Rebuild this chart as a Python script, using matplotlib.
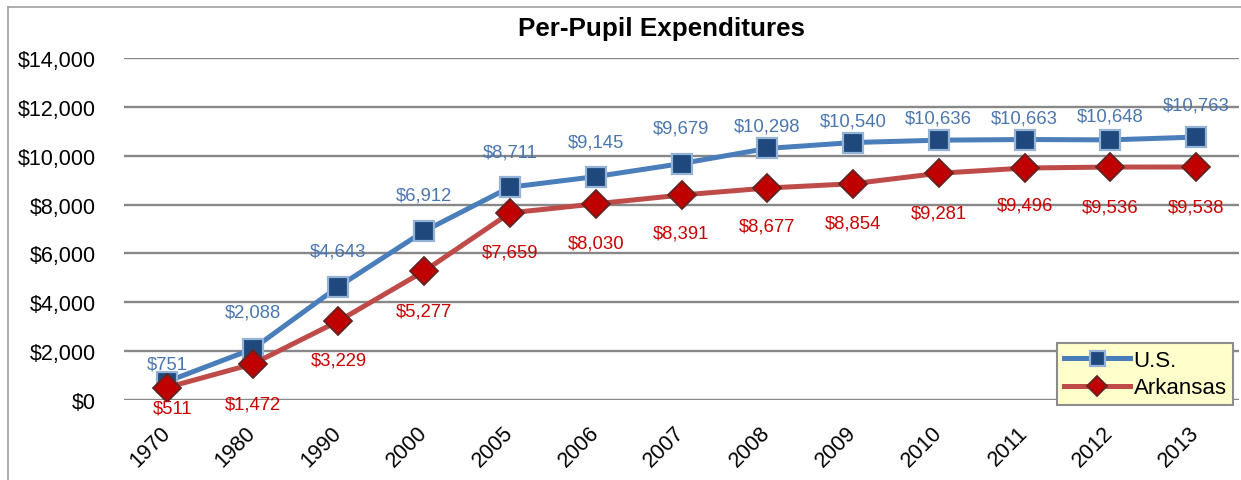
import numpy as np
import matplotlib
matplotlib.use("Agg")
import matplotlib.pyplot as plt
from matplotlib.lines import Line2D

plt.rcParams['font.family'] = ['Liberation Sans', 'DejaVu Sans']

# ---- data ----
years = ["1970", "1980", "1990", "2000", "2005", "2006", "2007",
         "2008", "2009", "2010", "2011", "2012", "2013"]
us_values = [751, 2088, 4643, 6912, 8711, 9145, 9679,
             10298, 10540, 10636, 10663, 10648, 10763]
ar_values = [511, 1472, 3229, 5277, 7659, 8030, 8391,
             8677, 8854, 9281, 9496, 9536, 9538]
y_ticks = [0, 2000, 4000, 6000, 8000, 10000, 12000, 14000]
y_tick_labels = ["$0", "$2,000", "$4,000", "$6,000", "$8,000",
                 "$10,000", "$12,000", "$14,000"]
series_names = ["U.S.", "Arkansas"]
title = "Per-Pupil Expenditures"

# ---- label placement (pixels) ----
us_label_dy = [18, 37, 36, 36, 35, 35, 36, 22, 22, 22, 22, 24, 32]
ar_label_dy = [20, 40, 39, 40, 39, 39, 38, 38, 39, 40, 37, 40, 40]
ar_label_dx = [6, 0, 0, 0, 0, 0, 0, 0, 0, 0, 0, 0, 0]

W, H = 1241, 481
fig = plt.figure(figsize=(W / 100, H / 100), dpi=100)
ax = fig.add_axes([124 / W, 1 - 401 / H, (1239 - 124) / W, (401 - 59) / H])

x = np.arange(len(years))
ax.set_xlim(-0.5, len(years) - 0.5)
ax.set_ylim(0, 14000)

ax.set_yticks(y_ticks)
ax.set_yticklabels(y_tick_labels, fontsize=15.5)
ax.set_xticks(x)
ax.set_xticklabels(years, fontsize=15.5, rotation=45, ha='right',
                   va='center', rotation_mode='anchor')
ax.tick_params(axis='y', length=0, pad=20)
ax.tick_params(axis='x', length=0, pad=21)
ax.yaxis.grid(True, color='#888888', lw=1.7)
ax.set_axisbelow(True)
for s in ax.spines.values():
    s.set_visible(False)

us_line, = ax.plot(x, us_values, color='#4A7EBB', lw=3.6, marker='s', ms=15,
                   mfc='#1F497D', mec='#95B3D7', mew=1.6, zorder=3,
                   label=series_names[0])
ar_line, = ax.plot(x, ar_values, color='#BE4B48', lw=3.6, marker='D', ms=14,
                   mfc='#C00000', mec='#632523', mew=1.3, zorder=4,
                   label=series_names[1])

for i in range(len(years)):
    ax.annotate("${:,}".format(us_values[i]), (x[i], us_values[i]),
                xytext=(0, us_label_dy[i]), textcoords='offset pixels',
                ha='center', va='center', fontsize=13.3, color='#4A76B0',
                zorder=5)
    ax.annotate("${:,}".format(ar_values[i]), (x[i], ar_values[i]),
                xytext=(ar_label_dx[i], -ar_label_dy[i]),
                textcoords='offset pixels',
                ha='center', va='center', fontsize=13.3, color='#CC0000',
                zorder=5)

leg = ax.legend(handles=[us_line, ar_line], loc='upper left',
                bbox_to_anchor=(1057 / W, 1 - 344 / H),
                bbox_transform=fig.transFigure, borderaxespad=0,
                fontsize=16, fancybox=False, framealpha=1,
                facecolor='#FFFFCC', edgecolor='#8C8C8C',
                borderpad=0.3, handlelength=3.0, handletextpad=0.15,
                labelspacing=0.3, markerscale=0.72)
leg.get_frame().set_linewidth(1.5)
leg.set_zorder(10)

fig.text(662 / W, 1 - 29 / H, title, ha='center', va='center',
         fontsize=18.7, fontweight='bold')

# outer chart border (left and top visible)
fig.add_artist(Line2D([8 / W, 8 / W], [0, 1 - 8 / H], color='#A0A0A0', lw=1.2))
fig.add_artist(Line2D([8 / W, 1], [1 - 8 / H, 1 - 8 / H], color='#A0A0A0', lw=1.2))

fig.savefig("out.png", dpi=100)
